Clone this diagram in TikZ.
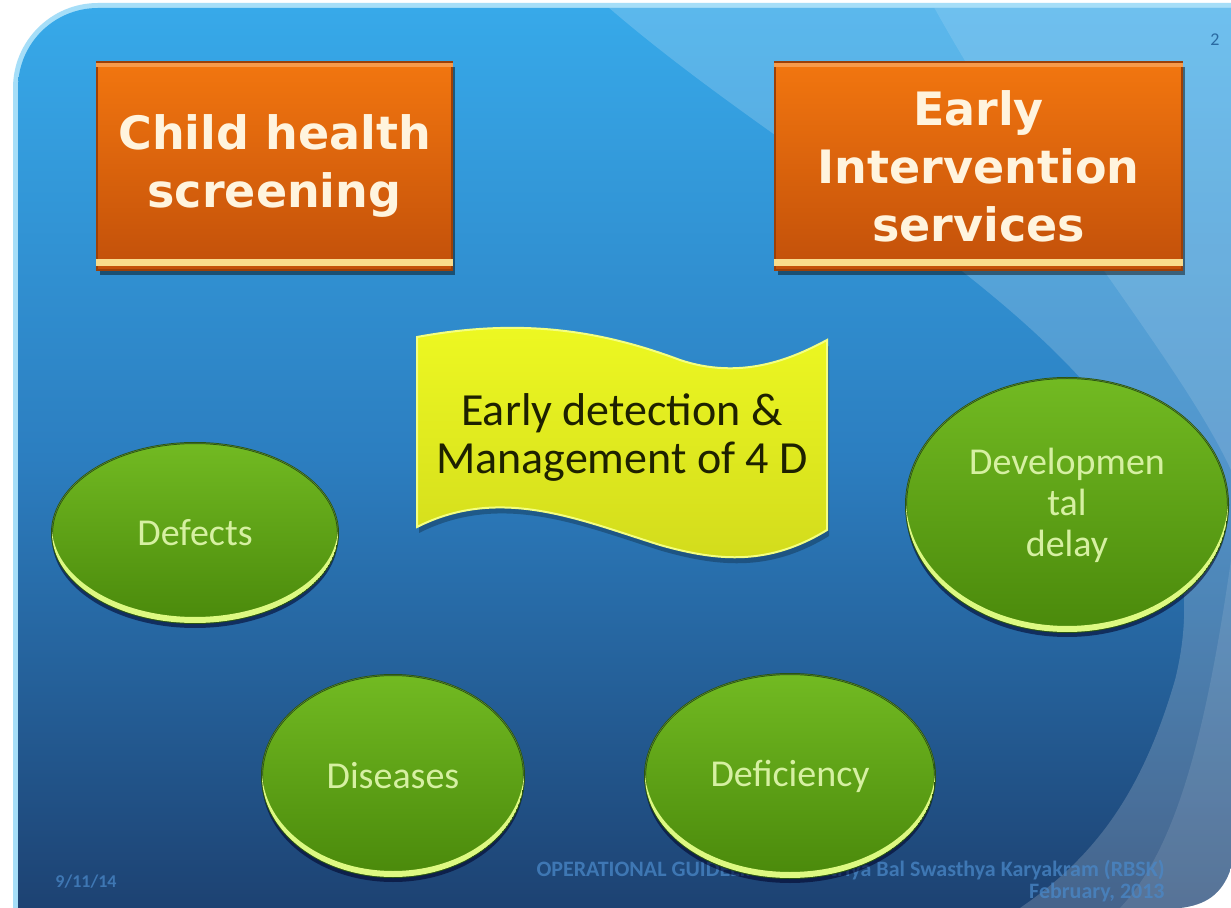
\documentclass[tikz,border=0pt]{standalone}
\usepackage{fontspec}
\setmainfont{Carlito}
\newfontfamily\boxfont{DejaVu Sans}
\usetikzlibrary{shapes.geometric,shadows}
\definecolor{bgtop}{HTML}{37A9E9}
\definecolor{bgmid}{HTML}{2C7EC0}
\definecolor{bgbot}{HTML}{1D4272}
\definecolor{glowc}{HTML}{A6DEF8}
\definecolor{orT}{HTML}{F2760F}
\definecolor{orB}{HTML}{C2500A}
\definecolor{orHi}{HTML}{F79A4A}
\definecolor{stripc}{HTML}{F9DC8C}
\definecolor{cream}{HTML}{FFF4DE}
\definecolor{ylT}{HTML}{EEF922}
\definecolor{ylB}{HTML}{D2DB1C}
\definecolor{ylEdge}{HTML}{F4FF80}
\definecolor{bantext}{HTML}{1E2100}
\definecolor{gT}{HTML}{72BA22}
\definecolor{gB}{HTML}{4A890B}
\definecolor{gEdge}{HTML}{2A5512}
\definecolor{rimc}{HTML}{DDF982}
\definecolor{gtext}{HTML}{D6F0A2}
\definecolor{foot}{HTML}{4A88C8}
\definecolor{pnum}{HTML}{2A6AA2}
\tikzset{
  obox/.style={rectangle, inner sep=0pt, top color=orT, bottom color=orB,
    draw=orB!80!black, line width=0.6pt,
    drop shadow={shadow xshift=1.5pt, shadow yshift=-2.5pt, opacity=0.45, fill=black},
    text=cream, align=center, font=\boxfont\bfseries\fontsize{23}{29}\selectfont},
  gell/.style={ellipse, inner sep=0pt, top color=gT, bottom color=gB,
    draw=gEdge, line width=1pt,
    drop shadow={shadow xshift=0pt, shadow yshift=-2.5pt, opacity=0.55, fill=black!85!blue},
    text=gtext, align=center, font=\fontsize{19}{20.5}\selectfont},
  bantxt/.style={text=bantext, align=center, font=\fontsize{23}{24}\selectfont},
  foottxt/.style={text=foot, text opacity=0.75, font=\bfseries\fontsize{11}{12}\selectfont, inner sep=0pt}
}
\newcommand{\rimon}[4]{%
  \begin{scope}
    \clip (#1,#2) ellipse [x radius=#3, y radius=#4];
    \fill[rimc, even odd rule] (#1,#2) ellipse [x radius=#3, y radius=#4]
       (#1,#2-6) ellipse [x radius=#3, y radius=#4];
  \end{scope}}
\begin{document}
\begin{tikzpicture}[x=0.5pt,y=-0.5pt]
\useasboundingbox (0,0) rectangle (1231,908);
\fill[white] (0,0) rectangle (1231,908);
% panel glow
\draw[glowc, line width=5pt] (18,920) -- (18,88) arc[start angle=180, end angle=270, radius=80] -- (1240,8);
% panel
\shade[top color=bgtop, bottom color=bgbot, middle color=bgmid]
  (18,908) -- (18,88) arc[start angle=180, end angle=270, radius=80] -- (1231,8) -- (1231,868)
  .. controls (1222,895) and (1205,905) .. (1180,908) -- cycle;
\begin{scope}
  \clip (18,908) -- (18,88) arc[start angle=180, end angle=270, radius=80] -- (1231,8) -- (1231,868)
  .. controls (1222,895) and (1205,905) .. (1180,908) -- cycle;
  \fill[white, opacity=0.18] (600,0) .. controls (850,220) and (1250,380) .. (1175,680)
     .. controls (1140,800) and (1090,860) .. (1020,908) -- (1231,908) -- (1231,0) -- cycle;
  \fill[white, opacity=0.12] (930,0) .. controls (1040,200) and (1180,360) .. (1231,470) -- (1231,0) -- cycle;
  \fill[white, opacity=0.10] (1231,560) .. controls (1205,740) and (1175,850) .. (1120,908) -- (1231,908) -- cycle;
\end{scope}
% page number
\node[text=pnum, font=\fontsize{9}{10}\selectfont, inner sep=0pt] (pnum) at (1215,40) {2};
% orange boxes
\node[obox, minimum width=177.5pt, minimum height=104pt] (lbox) at (274.5,166) {Child health\\screening};
\node[obox, minimum width=203.5pt, minimum height=104pt] (rbox) at (978.5,166) {Early\\Intervention\\services};
\foreach \b in {lbox,rbox}{
  \fill[orHi] ([yshift=-0.6pt]\b.north west) rectangle ([yshift=-3pt]\b.north east);
  \fill[stripc] ([yshift=2.5pt]\b.south west) rectangle ([yshift=6pt]\b.south east);
}
% banner
\fill[black, opacity=0.25, xshift=1pt, yshift=-3pt]
  (417,337) .. controls (520,318) and (600,330) .. (680,360)
  .. controls (740,380) and (790,360) .. (827,340) -- (827,530)
  .. controls (770,565) and (720,562) .. (660,545)
  .. controls (580,520) and (500,485) .. (417,527) -- cycle;
\shade[top color=ylT, bottom color=ylB, draw=ylEdge, line width=1pt]
  (417,337) .. controls (520,318) and (600,330) .. (680,360)
  .. controls (740,380) and (790,360) .. (827,340) -- (827,530)
  .. controls (770,565) and (720,562) .. (660,545)
  .. controls (580,520) and (500,485) .. (417,527) -- cycle;
\node[bantxt] (banner) at (622,437) {Early detection \&\\Management of 4 D};
% footer
\node[foottxt, font=\bfseries\fontsize{9}{10}\selectfont] (date) at (86,882) {9/11/14};
\node[foottxt, anchor=east] (foot1) at (1165,870) {OPERATIONAL GUIDELINES Rashtriya Bal Swasthya Karyakram (RBSK)};
\node[foottxt, anchor=east] (foot2) at (1165,893) {February, 2013};
% green ellipses
\node[gell, minimum width=143pt, minimum height=90pt] (defects) at (195,533) {Defects};
\rimon{195}{533}{143}{90}
\node[gell, minimum width=161pt, minimum height=127pt] (devdelay) at (1067,505) {Developmen\\tal\\delay};
\rimon{1067}{505}{161}{127}
\node[gell, minimum width=131pt, minimum height=101pt] (diseases) at (393,776) {Diseases};
\rimon{393}{776}{131}{101}
\node[gell, minimum width=145pt, minimum height=102pt] (deficiency) at (790,776) {Deficiency};
\rimon{790}{776}{145}{102}
\end{tikzpicture}
\end{document}
